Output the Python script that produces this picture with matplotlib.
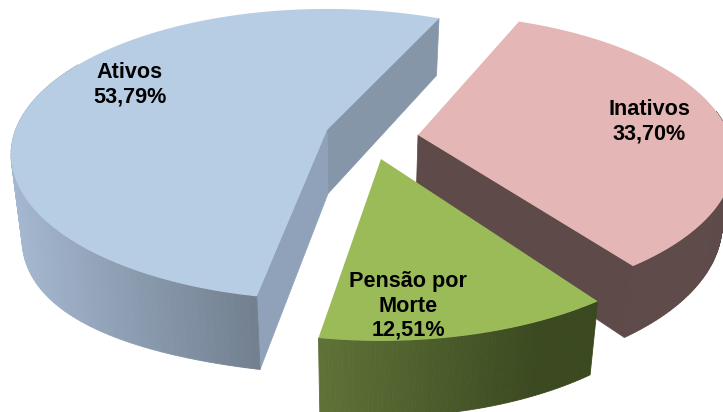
import numpy as np
import matplotlib
matplotlib.use("Agg")
import matplotlib.pyplot as plt
from matplotlib.colors import to_rgb

categories = ["Ativos", "Inativos", "Pensão por\nMorte"]
labels = ["53,79%", "33,70%", "12,51%"]
values = [53.79, 33.70, 12.51]

#Look of the tilted pie
A = 311.5
B = 141.4
K = 0.168
START = 65.5#Angle where Ativos begins, runs counter clockwise

#Per slice layout: apex x, apex y, angle shift, x scale, y scale
apexX = [327, 418, 381]
apexY = [130, 135, 159]
shift = [0, 2.5, 1.5]
scaleX = [1, 1, 1.03]
scaleY = [1, 1, 1.07]

topColors = ["#b7cde3", "#e4b6b5", "#9bbb59"]
wallLeft = ["#a5b8d1", "#5e4b49", "#5f7338"]
wallRight = ["#72808f", "#5e4b49", "#3b4920"]
textPos = [(130, 85), (649, 122), (408, 306)]

def project(angle, i):
    t = np.radians(angle)
    u = np.cos(t)
    v = np.sin(t)
    d = 1 + K*v
    x = apexX[i] + A*scaleX[i]*u/d
    y = apexY[i] - B*scaleY[i]*v/d
    return x, y

#Bottom of the pie is a bit narrower and further down, more so on the far left
def lower(x, y):
    extra = 20*np.clip((254 - x)/243, 0, 1)**2
    return 360 + (x - 360)*0.968, y + 56 + 0.058*y + extra

def mix(c1, c2, t):
    c1 = np.array(to_rgb(c1))
    c2 = np.array(to_rgb(c2))
    return tuple(c1 + (c2 - c1)*min(max(t, 0), 1))

fig = plt.figure(figsize=(7.23, 4.12), dpi=100)
ax = fig.add_axes([0, 0, 1, 1])
ax.set_xlim(0, 723)
ax.set_ylim(412, 0)
ax.axis("off")

#Work out where each slice begins and ends
sweeps = [val/100*360 for val in values]
ativosStart = START + shift[0]
ativosEnd = ativosStart + sweeps[0]
inativosEnd = START + shift[1]
inativosStart = inativosEnd - sweeps[1]
pensaoStart = START + sweeps[0] + shift[2]
pensaoEnd = pensaoStart + sweeps[2]
ranges = [(ativosStart, ativosEnd), (inativosStart, inativosEnd), (pensaoStart, pensaoEnd)]

def drawWall(i, a1, a2, x1, x2, z):
    angles = np.linspace(a1, a2, 90)
    for p, q in zip(angles[:-1], angles[1:]):
        xp, yp = project(p, i)
        xq, yq = project(q, i)
        xpb, ypb = lower(xp, yp)
        xqb, yqb = lower(xq, yq)
        col = mix(wallLeft[i], wallRight[i], ((xp + xq)/2 - x1)/(x2 - x1))
        ax.fill([xp, xq, xqb, xpb], [yp, yq, yqb, ypb], color=col, lw=0.6, zorder=z)

#Inativos goes first, the others overlap it
order = [1, 2, 0]
for n, i in enumerate(order):
    a1, a2 = ranges[i]
    z = 2 + n*3
    if i == 0:
        #Two inner walls meeting below the apex
        xa, ya = apexX[0], apexY[0]
        xab, yab = lower(xa, ya)
        xs, ys = project(a1, 0)
        xsb, ysb = lower(xs, ys)
        xe, ye = project(a2, 0)
        xeb, yeb = lower(xe, ye)
        ax.fill([xa, xs, xsb, xab], [ya, ys, ysb, yab], color="#8596a9", lw=0.5, zorder=z)
        ax.fill([xa, xe, xeb, xab], [ya, ye, yeb, yab], color="#8fa2b9", lw=0.5, zorder=z)
        drawWall(0, 150, a2, 11, 254, z)
    elif i == 1:
        xa, ya = apexX[1], apexY[1]
        xab, yab = lower(xa, ya)
        xe, ye = project(a1, 1)
        xeb, yeb = lower(xe, ye)
        ax.fill([xa, xe, xeb, xab], [ya, ye, yeb, yab], color=wallLeft[1], lw=0.5, zorder=z)
        drawWall(1, a1, 10, 0, 723, z)
    else:
        drawWall(2, a1, a2, 317, 540, z)
    angles = np.linspace(a1, a2, 200)
    x, y = project(angles, i)
    ax.fill(np.r_[apexX[i], x], np.r_[apexY[i], y], color=topColors[i], lw=0, zorder=z + 1)

for i in range(len(categories)):
    ax.text(textPos[i][0], textPos[i][1], categories[i] + "\n" + labels[i], ha="center", va="center",
            family="Liberation Sans", fontweight="bold", fontsize=15.6, linespacing=1.2, color="black", zorder=20)

fig.savefig("out.png", dpi=100)
